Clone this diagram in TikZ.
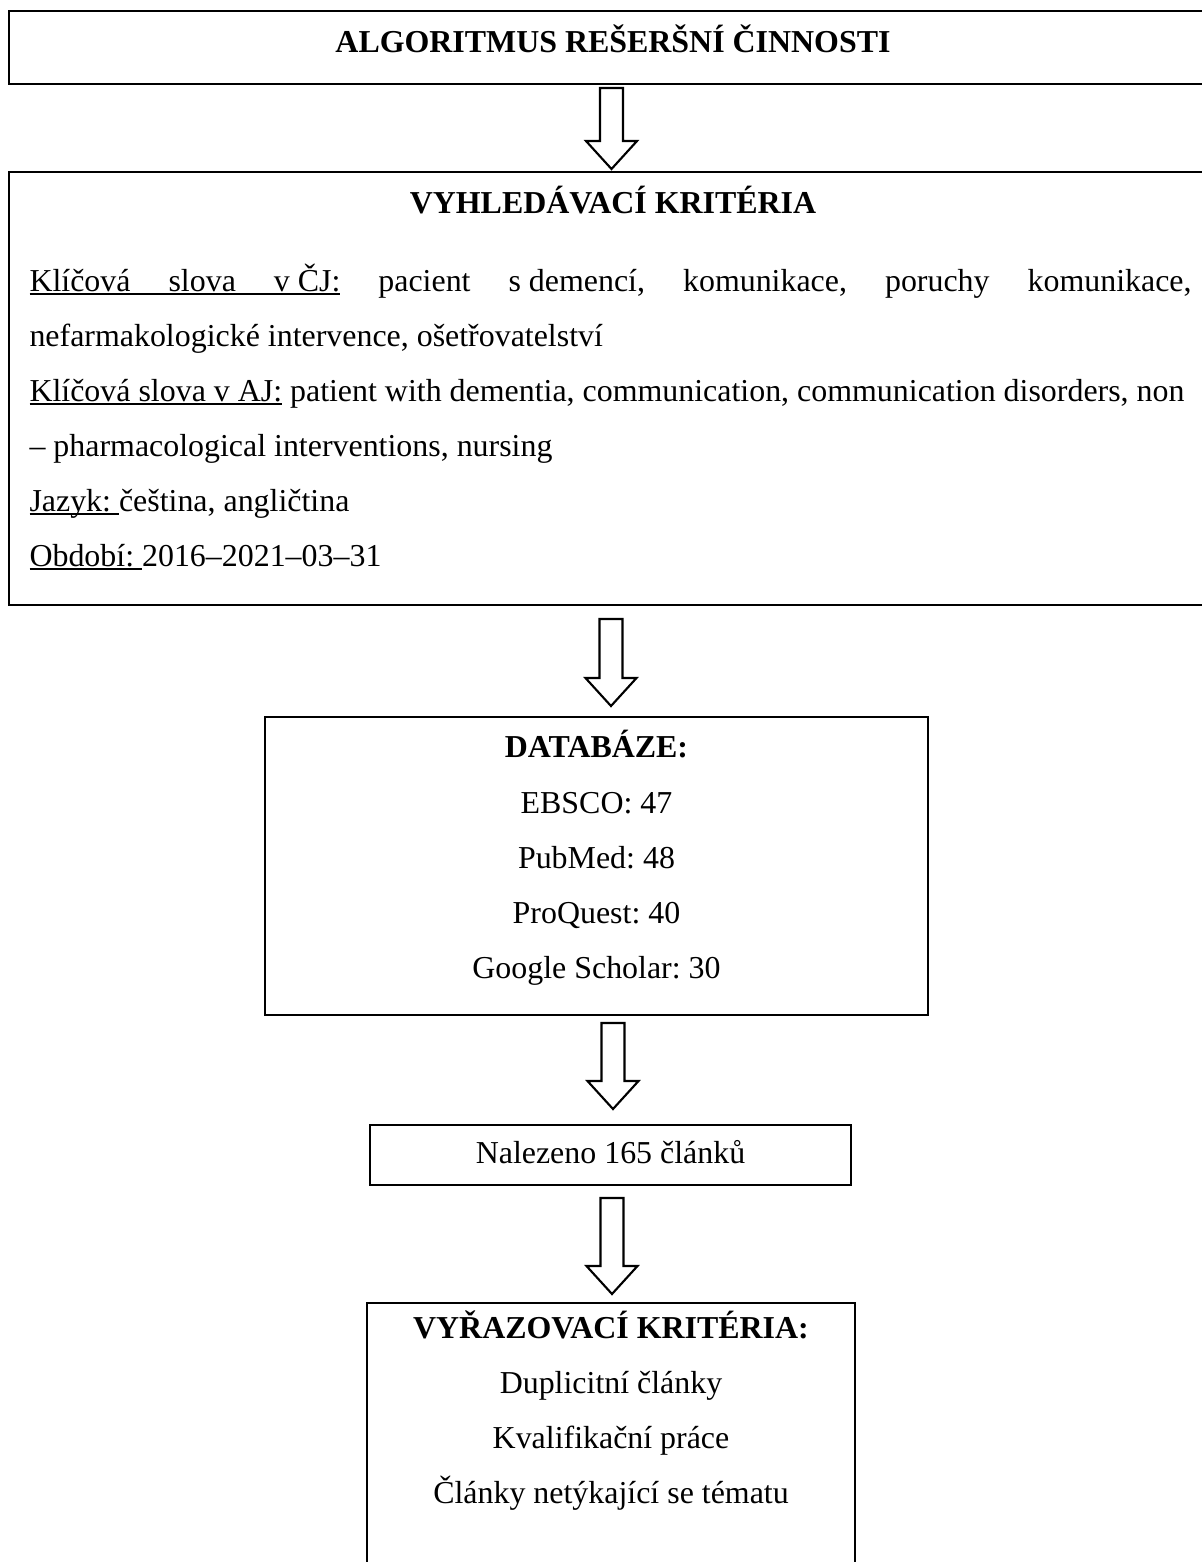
\documentclass[tikz,border=0pt]{standalone}
\usepackage{fontspec}
\setmainfont{Liberation Serif}
\usetikzlibrary{fit,calc}
\frenchspacing
\newdimen\pxu \pxu=0.376pt
\newsavebox\ulbox
\newcommand\ulword[1]{\sbox\ulbox{#1}\rlap{\rule[-1.6pt]{\wd\ulbox}{0.75pt}}\usebox\ulbox}
\newcommand\ulgap{\leaders\hrule height -0.85pt depth 1.6pt\hfill}
\tikzset{
  box/.style={draw, line width=0.8pt, inner sep=0pt, outer sep=0pt, rectangle},
  txt/.style={anchor=base, inner sep=0pt, font=\fontsize{12}{20.7}\selectfont\frenchspacing},
  lefttxt/.style={anchor=base west, inner sep=0pt, font=\fontsize{12}{20.7}\selectfont\frenchspacing},
  headtxt/.style={anchor=base, inner sep=0pt, font=\fontsize{12}{20.7}\selectfont\bfseries\frenchspacing},
  blockarrow/.style={draw, line width=0.8pt, fill=white, line join=miter},
}
\newcommand\downblockarrow[2]{%
  \draw[blockarrow] ($(#1)+(-11.5,0)$) -- ($(#2)+(-11.5,-28)$) -- ($(#2)+(-25.5,-28)$) -- (#2)
    -- ($(#2)+(25.5,-28)$) -- ($(#2)+(11.5,-28)$) -- ($(#1)+(11.5,0)$) -- cycle;}
\begin{document}
\begin{tikzpicture}[x=0.376pt, y=-0.376pt]
\useasboundingbox (0,0) rectangle (1202,1562);
\begin{scope}
\clip (0,0) rectangle (1202,1562);

% box 1
\node[box, fit={(9,11) (1221,84)}] (alg) {};
\node[headtxt] (algt) at (613,52) {ALGORITMUS REŠERŠNÍ ČINNOSTI};

% box 2
\node[box, fit={(9,172) (1221,605)}] (vyh) {};
\node[headtxt] (vyht) at (613,213) {VYHLEDÁVACÍ KRITÉRIA};
\node[lefttxt] (l1) at (29,291) {\makebox[1162\pxu][l]{\ulword{Klíčová}\ulgap\ulword{slova}\ulgap\ulword{v ČJ:}\hfill pacient\hfill s demencí,\hfill komunikace,\hfill poruchy\hfill komunikace,}};
\node[lefttxt] (l2) at (29,346) {nefarmakologické intervence, ošetřovatelství};
\node[lefttxt] (l3) at (29,401) {\ulword{Klíčová slova v AJ:} patient with dementia, communication, communication disorders, non};
\node[lefttxt] (l4) at (29,456) {– pharmacological interventions, nursing};
\node[lefttxt] (l5) at (29,511) {\ulword{Jazyk:\ }čeština, angličtina};
\node[lefttxt] (l6) at (29,566) {\ulword{Období:\ }2016–2021–03–31};

% box 3
\node[box, fit={(265,717) (928,1015)}] (db) {};
\node[headtxt] (dbt) at (596.5,757) {DATABÁZE:};
\node[txt] (db1) at (596.5,813) {EBSCO: 47};
\node[txt] (db2) at (596.5,868) {PubMed: 48};
\node[txt] (db3) at (596.5,923) {ProQuest: 40};
\node[txt] (db4) at (596.5,978) {Google Scholar: 30};

% box 4
\node[box, fit={(370,1125) (851,1185)}] (nal) {};
\node[txt] (nalt) at (610.5,1163) {Nalezeno 165 článků};

% box 5
\node[box, fit={(367,1303) (855,1620)}] (vyr) {};
\node[headtxt] (vyrt) at (611,1338) {VYŘAZOVACÍ KRITÉRIA:};
\node[txt] (vyr1) at (611,1393) {Duplicitní články};
\node[txt] (vyr2) at (611,1448) {Kvalifikační práce};
\node[txt] (vyr3) at (611,1503) {Články netýkající se tématu};

% arrows
\coordinate (a1s) at (611.5,88);   \coordinate (a1e) at (611.5,169);
\coordinate (a2s) at (611,619);    \coordinate (a2e) at (611,706);
\coordinate (a3s) at (613,1023);   \coordinate (a3e) at (613,1109);
\coordinate (a4s) at (612,1198);   \coordinate (a4e) at (612,1294);
\downblockarrow{a1s}{a1e}
\downblockarrow{a2s}{a2e}
\downblockarrow{a3s}{a3e}
\downblockarrow{a4s}{a4e}
\end{scope}
\end{tikzpicture}
\end{document}
